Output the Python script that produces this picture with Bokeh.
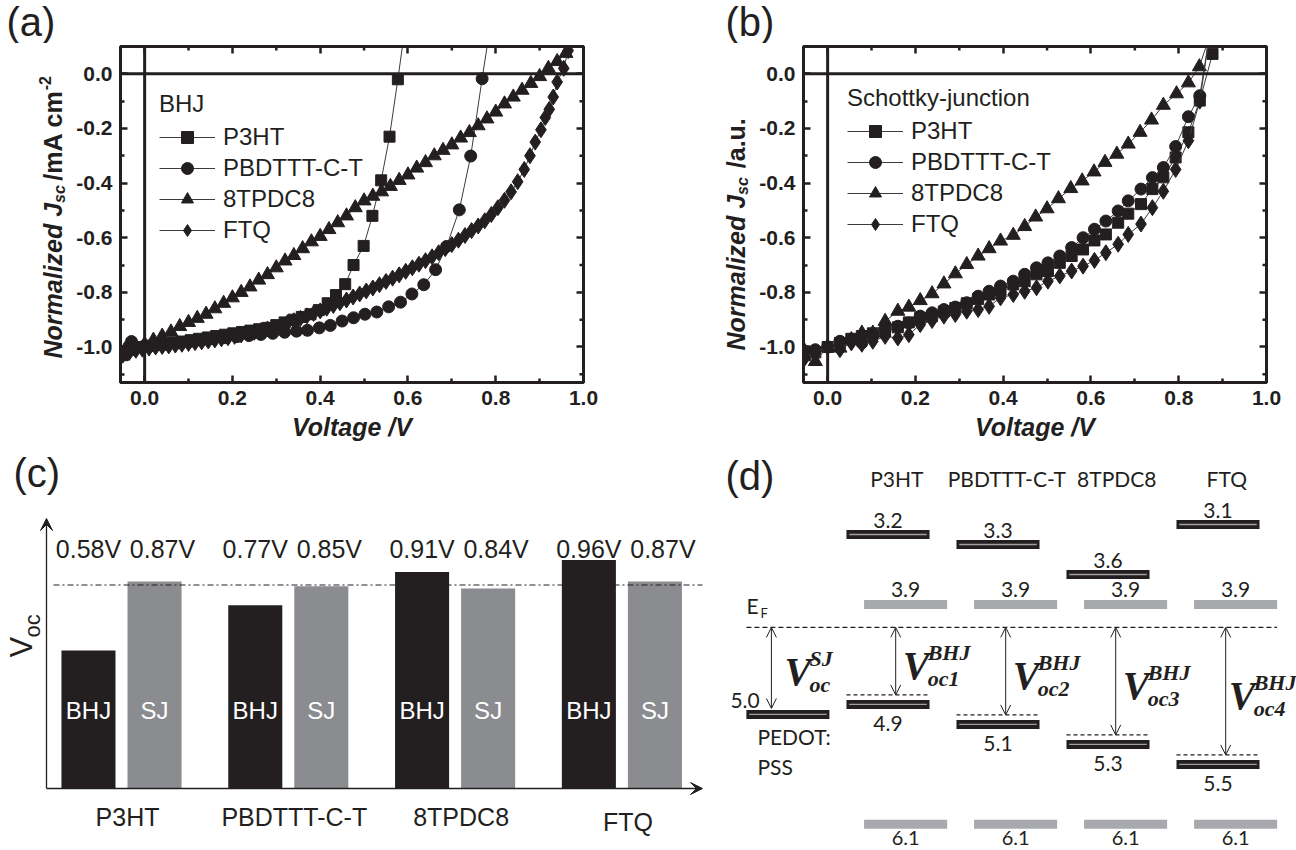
import math
from bokeh.plotting import figure
from bokeh.models import (Range1d, Legend, LegendItem, Arrow, VeeHead, OpenHead,
                          Span, LinearAxis, FixedTicker, ColumnDataSource, PrintfTickFormatter)
from bokeh.layouts import row, column
from bokeh.embed import file_html
from bokeh.resources import INLINE
from bokeh.core.properties import value

# ---------------------------------------------------------------- data
v_ticks = [0.0, 0.2, 0.4, 0.6, 0.8, 1.0]
v_minor = [0.1, 0.3, 0.5, 0.7, 0.9]
j_ticks = [-1.0, -0.8, -0.6, -0.4, -0.2, 0.0]
j_minor = [-1.1, -0.9, -0.7, -0.5, -0.3, -0.1]

# (a) bulk heterojunction J-V curves (normalized)
bhj_p3ht_v = [-0.05, -0.032, -0.012, 0.007, 0.027, 0.046, 0.066, 0.085, 0.105, 0.124,
              0.144, 0.163, 0.183, 0.202, 0.222, 0.241, 0.261, 0.28, 0.3, 0.319,
              0.339, 0.358, 0.378, 0.397, 0.417, 0.436, 0.457, 0.476, 0.499, 0.519,
              0.539, 0.558, 0.577, 0.596]
bhj_p3ht_j = [-1.03, -1.01, -1.0, -0.995, -0.99, -0.987, -0.983, -0.98, -0.975, -0.97,
              -0.965, -0.96, -0.955, -0.95, -0.945, -0.94, -0.935, -0.93, -0.92, -0.91,
              -0.9, -0.89, -0.88, -0.865, -0.84, -0.81, -0.77, -0.70, -0.63, -0.52,
              -0.39, -0.23, -0.02, 0.2]
bhj_pbdttt_v = [-0.05, -0.03, -0.005, 0.022, 0.049, 0.076, 0.103, 0.13, 0.157, 0.184,
                0.211, 0.238, 0.265, 0.292, 0.319, 0.346, 0.371, 0.398, 0.423, 0.45,
                0.476, 0.502, 0.529, 0.556, 0.583, 0.609, 0.636, 0.663, 0.688, 0.717,
                0.743, 0.769, 0.79]
bhj_pbdttt_j = [-1.02, -0.98, -1.0, -0.995, -0.99, -0.985, -0.98, -0.975, -0.97, -0.966,
                -0.962, -0.958, -0.954, -0.95, -0.946, -0.942, -0.939, -0.93, -0.921, -0.905,
                -0.893, -0.88, -0.872, -0.853, -0.836, -0.806, -0.772, -0.717, -0.632, -0.498,
                -0.301, -0.018, 0.2]
bhj_8tpdc8_v = [-0.045, -0.025, 0.0, 0.02, 0.04, 0.06, 0.08, 0.10, 0.12, 0.14,
                0.16, 0.18, 0.20, 0.22, 0.24, 0.26, 0.28, 0.30, 0.32, 0.34,
                0.36, 0.38, 0.40, 0.42, 0.44, 0.46, 0.48, 0.50, 0.52, 0.54,
                0.56, 0.58, 0.60, 0.62, 0.64, 0.66, 0.68, 0.70, 0.72, 0.74,
                0.76, 0.78, 0.80, 0.82, 0.84, 0.86, 0.88, 0.90, 0.92, 0.94, 0.96]
bhj_8tpdc8_j = [-1.01, -1.0, -0.99, -0.975, -0.96, -0.945, -0.925, -0.91, -0.895, -0.88,
                -0.86, -0.84, -0.82, -0.80, -0.78, -0.755, -0.735, -0.71, -0.685, -0.665,
                -0.64, -0.615, -0.595, -0.57, -0.545, -0.52, -0.49, -0.465, -0.448, -0.432,
                -0.412, -0.39, -0.37, -0.345, -0.325, -0.30, -0.28, -0.26, -0.235, -0.215,
                -0.19, -0.165, -0.14, -0.11, -0.085, -0.06, -0.035, -0.01, 0.02, 0.045, 0.075]
bhj_ftq_v = [-0.05, -0.035, -0.02, -0.005, 0.01, 0.025, 0.04, 0.055, 0.07, 0.085,
             0.10, 0.115, 0.13, 0.145, 0.16, 0.175, 0.19, 0.205, 0.22, 0.235,
             0.25, 0.265, 0.28, 0.295, 0.31, 0.325, 0.34, 0.355, 0.37, 0.385,
             0.40, 0.415, 0.43, 0.445, 0.46, 0.475, 0.49, 0.505, 0.52, 0.535,
             0.55, 0.565, 0.58, 0.595, 0.61, 0.625, 0.64, 0.655, 0.67, 0.685,
             0.70, 0.715, 0.73, 0.745, 0.76, 0.775, 0.79, 0.805, 0.82, 0.835,
             0.85, 0.865, 0.878, 0.89, 0.903, 0.913, 0.922, 0.931, 0.94, 0.955, 0.965]
bhj_ftq_j = [-1.03, -1.02, -1.012, -1.008, -1.004, -1.0, -0.998, -0.996, -0.993, -0.99,
             -0.987, -0.984, -0.981, -0.978, -0.974, -0.97, -0.966, -0.961, -0.956, -0.951,
             -0.946, -0.94, -0.934, -0.927, -0.92, -0.912, -0.904, -0.895, -0.886, -0.877,
             -0.868, -0.858, -0.848, -0.838, -0.828, -0.817, -0.806, -0.795, -0.784, -0.772,
             -0.76, -0.748, -0.736, -0.723, -0.71, -0.697, -0.684, -0.67, -0.655, -0.64,
             -0.625, -0.609, -0.592, -0.574, -0.557, -0.538, -0.515, -0.49, -0.463, -0.432,
             -0.395, -0.35, -0.30, -0.25, -0.205, -0.16, -0.13, -0.085, -0.03, 0.02, 0.085]

# (b) Schottky-junction J-V curves (normalized)
sj_grid_v = [-0.052, -0.028, 0.0, 0.028, 0.054, 0.078, 0.103, 0.131, 0.16, 0.185,
             0.211, 0.238, 0.265, 0.291, 0.317, 0.343, 0.368, 0.394, 0.423, 0.449,
             0.476, 0.502, 0.529, 0.556, 0.582, 0.608, 0.634, 0.662, 0.685, 0.714,
             0.74, 0.765, 0.793, 0.822, 0.848]
sj_p3ht_v = sj_grid_v + [0.877, 0.895]
sj_p3ht_j = [-1.03, -1.02, -1.0, -0.985, -0.97, -0.96, -0.95, -0.942, -0.928, -0.91,
             -0.893, -0.887, -0.87, -0.857, -0.84, -0.824, -0.808, -0.793, -0.771, -0.759,
             -0.734, -0.722, -0.692, -0.667, -0.643, -0.61, -0.588, -0.545, -0.512, -0.477,
             -0.422, -0.379, -0.306, -0.214, -0.098, 0.073, 0.2]
sj_pbdttt_v = sj_grid_v + [0.872]
sj_pbdttt_j = [-1.016, -1.01, -1.0, -0.979, -0.973, -0.985, -0.955, -0.936, -0.924, -0.912,
               -0.887, -0.875, -0.863, -0.854, -0.838, -0.814, -0.796, -0.777, -0.759, -0.734,
               -0.71, -0.692, -0.667, -0.636, -0.6, -0.569, -0.539, -0.502, -0.465, -0.422,
               -0.38, -0.343, -0.266, -0.157, -0.08, 0.16]
sj_8tpdc8_v = [-0.052, -0.028, 0.0, 0.028, 0.054, 0.078, 0.103, 0.131, 0.16, 0.185,
               0.211, 0.238, 0.265, 0.291, 0.317, 0.343, 0.368, 0.394, 0.423, 0.449,
               0.474, 0.5, 0.526, 0.554, 0.58, 0.607, 0.632, 0.659, 0.685, 0.712,
               0.738, 0.765, 0.795, 0.822, 0.847, 0.875]
sj_8tpdc8_j = [-1.016, -1.053, -1.0, -1.004, -0.973, -0.949, -0.949, -0.906, -0.869, -0.854,
               -0.83, -0.805, -0.769, -0.732, -0.698, -0.667, -0.64, -0.612, -0.591, -0.559,
               -0.524, -0.494, -0.457, -0.42, -0.392, -0.359, -0.324, -0.294, -0.257, -0.214,
               -0.169, -0.115, -0.073, -0.033, 0.026, 0.16]
sj_ftq_v = sj_grid_v + [0.872]
sj_ftq_j = [-1.04, -1.02, -1.0, -1.01, -0.985, -0.99, -0.979, -0.961, -0.967, -0.955,
            -0.918, -0.903, -0.887, -0.881, -0.869, -0.863, -0.851, -0.82, -0.808, -0.796,
            -0.783, -0.759, -0.74, -0.722, -0.704, -0.683, -0.655, -0.624, -0.588, -0.55,
            -0.49, -0.43, -0.35, -0.245, -0.1, 0.16]

series_names = ["P3HT", "PBDTTT-C-T", "8TPDC8", "FTQ"]

# (c) open-circuit voltages
voc_materials = ["P3HT", "PBDTTT-C-T", "8TPDC8", "FTQ"]
voc_bhj = [0.58, 0.77, 0.91, 0.96]
voc_sj = [0.87, 0.85, 0.84, 0.87]
voc_ref = 0.855

# (d) energy levels (eV)
level_materials = ["P3HT", "PBDTTT-C-T", "8TPDC8", "FTQ"]
lumo = [3.2, 3.3, 3.6, 3.1]
homo = [4.9, 5.1, 5.3, 5.5]
acc_lumo = [3.9, 3.9, 3.9, 3.9]
acc_homo = [6.1, 6.1, 6.1, 6.1]
pedot_wf = 5.0
fermi = 4.13

# ---------------------------------------------------------------- style
INK = "#231f20"
GREY = "#8b8c90"
SANS = "Liberation Sans"
SERIF = "Liberation Serif"
HUM = "Lato"
HDR_H = 43
TOP_H = 407
BOT_H = 400
STRIP_W = 73
IV_TOP, IV_BOTTOM = 3, 68          # borders of the J-V frames inside TOP_H
IV_FRAME_H = TOP_H - IV_TOP - IV_BOTTOM
IV_XR = (-0.055, 1.0)
IV_YR = (-1.13, 0.1)

ARIAL_BOLD = {"N": .722, "o": .611, "r": .389, "m": .889, "a": .556, "l": .278, "i": .278,
              "z": .5, "e": .556, "d": .611, " ": .278, "J": .556, "s": .556, "c": .556,
              "/": .278, "A": .722, "-": .333, "2": .556, "u": .611, ".": .278}


def text_w(s, size):
    return sum(ARIAL_BOLD.get(ch, .556) for ch in s) * size


def blank(width, height, xr, yr, **kw):
    args = dict(min_border=0)
    args.update(kw)
    f = figure(width=width, height=height,
               x_range=xr if not isinstance(xr, tuple) else Range1d(*xr),
               y_range=yr if not isinstance(yr, tuple) else Range1d(*yr),
               output_backend="svg", toolbar_location=None, x_axis_location=None,
               y_axis_location=None, **args)
    f.outline_line_color = None
    f.grid.visible = False
    return f


# header strip with the panel letters of the top row
hdr = blank(1296, HDR_H, (0, 1296), (0, HDR_H))
hdr.text(x=[6, 725], y=[HDR_H - 21] * 2, text=["(a)", "(b)"], text_align="left",
         text_baseline="middle", text_font=value(SANS), text_font_size="40px",
         text_color=INK)


def iv_y(abs_py):
    """vertical pixel (from top of page) -> current density units of the J-V frames"""
    return IV_YR[1] - (abs_py - HDR_H - IV_TOP) / IV_FRAME_H * (IV_YR[1] - IV_YR[0])


def ytitle_strip(parts, start_abs_py, yrange):
    s = blank(STRIP_W, TOP_H, (0, STRIP_W), yrange, min_border_top=IV_TOP,
              min_border_bottom=IV_BOTTOM, min_border_left=0, min_border_right=0)
    ypx = start_abs_py
    for txt, size, style, xc in parts:
        s.text(x=[xc], y=[iv_y(ypx)], text=[txt], angle=math.pi / 2,
               text_align="left", text_baseline="middle", text_font=value(SANS),
               text_font_style=style, text_font_size=f"{size}px", text_color=INK)
        ypx -= text_w(txt, size)
    return s


def style_axis(ax, ticks, minor):
    ax.ticker = FixedTicker(ticks=ticks, minor_ticks=minor)
    ax.formatter = PrintfTickFormatter(format="%.1f")
    ax.minor_tick_in = 4
    ax.axis_line_color = INK
    ax.axis_line_width = 3
    ax.major_tick_in = 7
    ax.major_tick_out = 0
    ax.minor_tick_out = 0
    ax.major_tick_line_width = 2.5
    ax.minor_tick_line_width = 2.5
    ax.major_tick_line_color = INK
    ax.minor_tick_line_color = INK
    ax.major_label_text_font = SANS
    ax.major_label_text_font_style = "bold"
    ax.major_label_text_font_size = "21px"
    ax.major_label_text_color = INK
    ax.major_label_standoff = 8


def iv_panel(width, right_border, yrange, series, legend_title, legend_loc):
    p = figure(width=width, height=TOP_H, x_range=Range1d(*IV_XR), y_range=yrange,
               output_backend="svg", toolbar_location=None,
               min_border_left=46, min_border_right=right_border, min_border_top=IV_TOP,
               min_border_bottom=IV_BOTTOM)
    p.grid.visible = False
    p.outline_line_color = INK
    p.outline_line_width = 3
    top = LinearAxis()
    right = LinearAxis()
    p.add_layout(top, "above")
    p.add_layout(right, "right")
    style_axis(p.below[0], v_ticks, v_minor)
    style_axis(p.left[0], j_ticks, j_minor)
    xa = p.below[0]
    xa.axis_label = "Voltage /V"
    xa.axis_label_text_font = SANS
    xa.axis_label_text_font_style = "bold italic"
    xa.axis_label_text_font_size = "25px"
    xa.axis_label_text_color = INK
    xa.axis_label_standoff = 5
    top.ticker = FixedTicker(ticks=[], minor_ticks=v_ticks)
    right.ticker = FixedTicker(ticks=[], minor_ticks=j_ticks)
    for ax in (top, right):
        ax.axis_line_color = INK
        ax.axis_line_width = 3
        ax.minor_tick_in = 7
        ax.minor_tick_out = 0
        ax.minor_tick_line_width = 2.5
        ax.minor_tick_line_color = INK
        ax.major_tick_in = 0
        ax.major_tick_out = 0
    # short minor ticks on the mirrored top / right edges (half of each dash lies inside)
    p.scatter(x=v_minor, y=[IV_YR[1]] * len(v_minor), marker="dash", angle=math.pi / 2,
              size=8, line_color=INK, line_width=2.5)
    p.scatter(x=[IV_XR[1]] * len(j_minor), y=j_minor, marker="dash", size=8,
              line_color=INK, line_width=2.5)

    p.add_layout(Span(location=0, dimension="height", line_color=INK, line_width=3))
    p.add_layout(Span(location=0, dimension="width", line_color=INK, line_width=3))

    items = []
    for name, v, j, marker, size in series:
        src = ColumnDataSource(dict(v=v, j=j))
        ln = p.line("v", "j", source=src, line_color="#3c3c3c", line_width=1)
        sc = p.scatter("v", "j", source=src, marker=marker, size=size,
                       fill_color=INK, line_color=INK)
        items.append(LegendItem(label=name, renderers=[ln, sc]))
    leg = Legend(items=items, location=legend_loc, title=legend_title,
                 title_text_font=SANS, title_text_font_style="normal",
                 title_text_font_size="24px", title_text_color=INK, title_standoff=4,
                 label_text_font=SANS, label_text_font_size="24px", label_text_color=INK,
                 glyph_width=56, glyph_height=30, label_height=30, label_standoff=8,
                 spacing=1, padding=0, margin=0, border_line_color=None,
                 background_fill_alpha=0)
    p.add_layout(leg)
    return p


yr_a = Range1d(*IV_YR)
yr_b = Range1d(*IV_YR)
strip_a = ytitle_strip([("Normalized J", 25, "bold italic", 52),
                        ("sc ", 16, "bold italic", 59),
                        ("/mA cm", 25, "bold", 52), ("-2", 16, "bold", 44)], 358, yr_a)
pa = iv_panel(683 - STRIP_W, 100, yr_a,
              [(series_names[0], bhj_p3ht_v, bhj_p3ht_j, "square", 11),
               (series_names[1], bhj_pbdttt_v, bhj_pbdttt_j, "circle", 12),
               (series_names[2], bhj_8tpdc8_v, bhj_8tpdc8_j, "triangle", 14),
               (series_names[3], bhj_ftq_v, bhj_ftq_j, "diamond", 16)],
              "BHJ", (39, 137))
strip_b = ytitle_strip([("Normalized J", 25, "bold italic", 52),
                        ("sc  ", 16, "bold italic", 59),
                        ("/a.u.", 25, "bold", 52)], 350, yr_b)
pb = iv_panel(1296 - 683 - STRIP_W, 30, yr_b,
              [(series_names[0], sj_p3ht_v, sj_p3ht_j, "square", 11),
               (series_names[1], sj_pbdttt_v, sj_pbdttt_j, "circle", 12),
               (series_names[2], sj_8tpdc8_v, sj_8tpdc8_j, "triangle", 14),
               (series_names[3], sj_ftq_v, sj_ftq_j, "diamond", 16)],
              "Schottky-junction", (44, 143))


def to_data(xr, yr, frame, px, py):
    x = xr[0] + (px - frame[0]) / frame[2] * (xr[1] - xr[0])
    y = yr[1] - (py - frame[1]) / frame[3] * (yr[1] - yr[0])
    return x, y


# ---------------------------------------------------------------- (c) Voc bars
C_W = 715
C_PX_PER_V = 238.0
C_ZERO = 338.0
C_GROUP_PX = 166.8
C_FIRST = 121.0
C_XR = (-C_FIRST / C_GROUP_PX, (C_W - C_FIRST) / C_GROUP_PX)
C_YR = (-(BOT_H - C_ZERO) / C_PX_PER_V, C_ZERO / C_PX_PER_V)
C_FRAME = (0, 0, C_W, BOT_H)
pc = blank(C_W, BOT_H, C_XR, C_YR)
idx = list(range(len(voc_materials)))
bar_off, bar_w = 0.198, 0.324
bhj_x = [i - bar_off for i in idx]
sj_x = [i + bar_off for i in idx]
pc.vbar(x=bhj_x, top=voc_bhj, bottom=0, width=bar_w, fill_color=INK, line_color=None)
pc.vbar(x=sj_x, top=voc_sj, bottom=0, width=bar_w, fill_color=GREY, line_color=None)

ax_x, _ = to_data(C_XR, C_YR, C_FRAME, 46, 0)
end_x, _ = to_data(C_XR, C_YR, C_FRAME, 702, 0)
_, top_y = to_data(C_XR, C_YR, C_FRAME, 0, 68)
pc.line([ax_x + 0.042, end_x], [voc_ref, voc_ref], line_color=INK, line_width=1,
        line_dash="6 3 2 3")
pc.add_layout(Arrow(end=VeeHead(size=12, fill_color=INK, line_color=INK, line_width=1),
                    x_start=ax_x, y_start=0, x_end=ax_x, y_end=top_y,
                    line_color=INK, line_width=1.3))
pc.add_layout(Arrow(end=VeeHead(size=12, fill_color=INK, line_color=INK, line_width=1),
                    x_start=ax_x, y_start=0, x_end=end_x, y_end=0,
                    line_color=INK, line_width=1.3))

_, val_y = to_data(C_XR, C_YR, C_FRAME, 0, 98)
pc.text(x=bhj_x + sj_x, y=[val_y] * 8,
        text=[f"{v:.2f}V" for v in voc_bhj] + [f"{v:.2f}V" for v in voc_sj],
        x_offset=[0] * 4 + [8] * 4, text_align="center", text_baseline="middle",
        text_font=value(SANS), text_font_size="25px", text_color=INK)
_, in_y = to_data(C_XR, C_YR, C_FRAME, 0, 260)
pc.text(x=bhj_x + sj_x, y=[in_y] * 8, text=["BHJ"] * 4 + ["SJ"] * 4,
        text_align="center", text_baseline="middle", text_font=value(SANS),
        text_font_size="24px", text_color="white")
_, cat_y = to_data(C_XR, C_YR, C_FRAME, 0, 366)
pc.text(x=idx, y=[cat_y] * 4, text=voc_materials, x_offset=6, y_offset=[0, 0, 0, 5],
        text_align="center", text_baseline="middle", text_font=value(SANS),
        text_font_size="25px", text_color=INK)
vx, vy = to_data(C_XR, C_YR, C_FRAME, 21, 207)
pc.text(x=[vx], y=[vy], text=["V"], angle=math.pi / 2, text_align="left",
        text_baseline="middle", text_font=value(SANS), text_font_size="31px",
        text_color=INK)
vx, vy = to_data(C_XR, C_YR, C_FRAME, 32, 187)
pc.text(x=[vx], y=[vy], text=["oc"], angle=math.pi / 2, text_align="left",
        text_baseline="middle", text_font=value(SANS), text_font_size="22px",
        text_color=INK)
lx, ly = to_data(C_XR, C_YR, C_FRAME, 13, 0)
pc.text(x=[lx], y=[ly], text=["(c)"], text_align="left", text_baseline="top",
        text_font=value(SANS), text_font_size="40px", text_color=INK)

# ---------------------------------------------------------------- (d) energy levels
D_W = 581
D_LEFT_ABS = 715
D_COL_PX = 110.0
D_MID_ABS = 1052.5
D_E0, D_E0_PX, D_PX_PER_EV = 3.1, 524.0 - 450, 99.95


def d_u(local_px):
    return (local_px + D_LEFT_ABS - D_MID_ABS) / D_COL_PX + 1.5


def d_e(local_py):
    return D_E0 + (local_py - D_E0_PX) / D_PX_PER_EV


pd_ = blank(D_W, BOT_H, (d_u(0), d_u(D_W)), (d_e(BOT_H), d_e(0)))

col = list(range(len(level_materials)))
acc_off = 0.16
lvl_w = 0.755
pedot_x = -0.91
acc_x = [c + acc_off for c in col]


def level_bars(xs, ys, dark):
    if dark:
        pd_.rect(x=xs, y=ys, width=lvl_w, height=9, height_units="screen",
                 fill_color=INK, line_color=None)
        pd_.rect(x=xs, y=ys, width=lvl_w - 0.05, height=1.4, height_units="screen",
                 fill_color="#a0a0a0", line_color=None)
    else:
        pd_.rect(x=xs, y=ys, width=lvl_w, height=9, height_units="screen",
                 fill_color="#a7a9ac", line_color=None)


level_bars(col, lumo, True)
level_bars(col, homo, True)
level_bars([pedot_x], [pedot_wf], True)
level_bars(acc_x, acc_lumo, False)
level_bars(acc_x, acc_homo, False)

gap_ev = 0.095
pd_.line([pedot_x - lvl_w / 2, acc_x[-1] + lvl_w / 2], [fermi, fermi], line_color=INK,
         line_width=1.2, line_dash="5 3")
pd_.segment(x0=[c - lvl_w / 2 for c in col], x1=[c + lvl_w / 2 for c in col],
            y0=[h - gap_ev for h in homo], y1=[h - gap_ev for h in homo],
            line_color=INK, line_width=1.2, line_dash="4 3")

arrow_x = [pedot_x - 0.15] + [c + 0.07 for c in col]
arrow_end = [pedot_wf - 0.06] + [h - gap_ev for h in homo]
for ax_, ae in zip(arrow_x, arrow_end):
    pd_.add_layout(Arrow(start=OpenHead(size=10, line_width=1, line_color=INK),
                         end=OpenHead(size=10, line_width=1, line_color=INK),
                         x_start=ax_, y_start=fermi, x_end=ax_, y_end=ae,
                         line_color=INK, line_width=1))

num_kw = dict(text_font=value(HUM), text_font_size="21px", text_color=INK,
              text_align="center", text_baseline="middle")
pd_.text(x=[c + 0.08 for c in col], y=[d_e(28)] * 4, text=level_materials, **num_kw)
pd_.text(x=col, y=lumo, text=[f"{v:.1f}" for v in lumo], y_offset=-14, **num_kw)
pd_.text(x=acc_x, y=acc_lumo, text=[f"{v:.1f}" for v in acc_lumo], y_offset=-15, **num_kw)
pd_.text(x=col, y=homo, text=[f"{v:.1f}" for v in homo], y_offset=19, **num_kw)
pd_.text(x=acc_x, y=acc_homo, text=[f"{v:.1f}" for v in acc_homo], y_offset=14,
         text_font=value(HUM), text_font_size="20px", text_color=INK,
         text_align="center", text_baseline="middle")
left_kw = dict(num_kw, text_align="left")
pd_.text(x=[pedot_x - lvl_w / 2 - 0.145], y=[pedot_wf], text=[f"{pedot_wf:.1f}"],
         y_offset=-14, **left_kw)
pd_.text(x=[pedot_x - lvl_w / 2 + 0.1] * 2, y=[pedot_wf] * 2, text=["PEDOT:", "PSS"],
         y_offset=[22, 52], **left_kw)
pd_.text(x=[pedot_x - lvl_w / 2], y=[fermi], text=["E"], y_offset=-22, **left_kw)
pd_.text(x=[pedot_x - lvl_w / 2], y=[fermi], text=["F"], y_offset=-14, x_offset=14,
         text_baseline="middle", text_font=value(HUM), text_font_size="13px",
         text_color=INK, text_align="left")

v_sup = ["SJ", "BHJ", "BHJ", "BHJ", "BHJ"]
v_sub = ["oc", "oc1", "oc2", "oc3", "oc4"]
v_mid = [(fermi + e) / 2 for e in arrow_end]
v_dx = [13, 7, 7, 7, 3]
serif_kw = dict(text_font=value(SERIF), text_font_style="bold italic", text_color=INK,
                text_align="left", text_baseline="middle")
pd_.text(x=arrow_x, y=v_mid, text=["V"] * 5, x_offset=v_dx, y_offset=4,
         text_font_size="40px", **serif_kw)
pd_.text(x=arrow_x, y=v_mid, text=v_sup, x_offset=[d + 25 for d in v_dx], y_offset=-9,
         text_font_size="22px", **serif_kw)
pd_.text(x=arrow_x, y=v_mid, text=v_sub, x_offset=[d + 25 for d in v_dx], y_offset=17,
         text_font_size="22px", **serif_kw)
pd_.text(x=[d_u(10)], y=[d_e(3)], text=["(d)"], text_align="left", text_baseline="top",
         text_font=value(SANS), text_font_size="40px", text_color=INK)

layout = column(hdr, row(strip_a, pa, strip_b, pb), row(pc, pd_))
open("out.html", "w").write(file_html(layout, INLINE))
